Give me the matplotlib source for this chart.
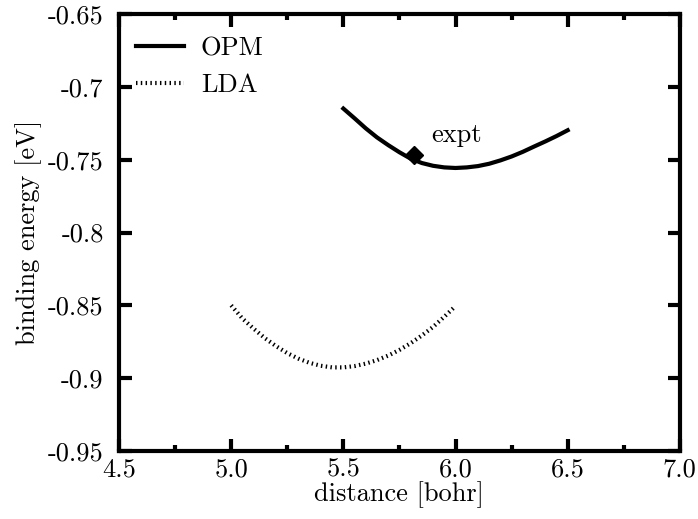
import numpy as np
import matplotlib
matplotlib.use('Agg')
import matplotlib.pyplot as plt

# values
opm_x = [5.50, 5.55, 5.60, 5.65, 5.70, 5.75, 5.80, 5.85, 5.90, 5.95, 6.00,
         6.05, 6.10, 6.15, 6.20, 6.25, 6.30, 6.35, 6.40, 6.45, 6.50]
opm_y = [-0.7149, -0.7216, -0.7285, -0.7347, -0.7400, -0.7449, -0.7493, -0.7523, -0.7542, -0.7553, -0.7557,
         -0.7553, -0.7544, -0.7528, -0.7505, -0.7478, -0.7446, -0.7410, -0.7375, -0.7338, -0.7298]
lda_x = [5.00, 5.05, 5.10, 5.15, 5.20, 5.25, 5.30, 5.35, 5.40, 5.45, 5.50,
         5.55, 5.60, 5.65, 5.70, 5.75, 5.80, 5.85, 5.90, 5.95, 6.00]
lda_y = [-0.8500, -0.8590, -0.8660, -0.8725, -0.8780, -0.8828, -0.8866, -0.8895, -0.8915, -0.8926, -0.8926,
         -0.8917, -0.8900, -0.8876, -0.8845, -0.8806, -0.8760, -0.8707, -0.8648, -0.8578, -0.8505]
expt_x = [5.815]
expt_y = [-0.7465]

xticks = [4.5, 5.0, 5.5, 6.0, 6.5, 7.0]
xticklabels = ['4.5', '5.0', '5.5', '6.0', '6.5', '7.0']
yticks = [-0.95, -0.9, -0.85, -0.8, -0.75, -0.7, -0.65]
yticklabels = ['-0.95', '-0.9', '-0.85', '-0.8', '-0.75', '-0.7', '-0.65']

plt.rcParams['font.family'] = 'cmr10'
plt.rcParams['mathtext.fontset'] = 'cm'
plt.rcParams['axes.unicode_minus'] = False
plt.rcParams['font.size'] = 19

fig = plt.figure(figsize=(6.98, 5.19), dpi=100)
ax = fig.add_axes([0.1705, 0.131, 0.8035, 0.842])

ax.plot(opm_x, opm_y, color='black', lw=3, label='OPM')
ax.plot(lda_x, lda_y, color='black', lw=3, dashes=(0.35, 0.8), label='LDA')
ax.plot(expt_x, expt_y, 'kD', markersize=9)
ax.text(5.893, -0.7378, 'expt', ha='left', va='baseline')

ax.set_xlim(4.5, 7.0)
ax.set_ylim(-0.95, -0.65)
ax.set_xticks(xticks)
ax.set_xticklabels(xticklabels)
ax.set_xticks([4.75, 5.25, 5.75, 6.25, 6.75], minor=True)
ax.set_yticks(yticks)
ax.set_yticklabels(yticklabels)
ax.tick_params(which='both', direction='in', top=True, right=True, width=3)
ax.tick_params(which='major', length=9)
ax.tick_params(which='minor', length=4.5)
ax.tick_params(axis='x', which='major', pad=5)
ax.tick_params(axis='y', which='major', pad=11)
for s in ax.spines.values():
    s.set_linewidth(3)

ax.set_xlabel('distance [bohr]', labelpad=0)
ax.set_ylabel('binding energy [eV]', labelpad=4)
ax.legend(loc='upper left', bbox_to_anchor=(0.0, 0.988), frameon=False,
          handlelength=1.8, handletextpad=0.65, labelspacing=0.5, borderaxespad=0.25)

plt.savefig('out.png', dpi=100)
